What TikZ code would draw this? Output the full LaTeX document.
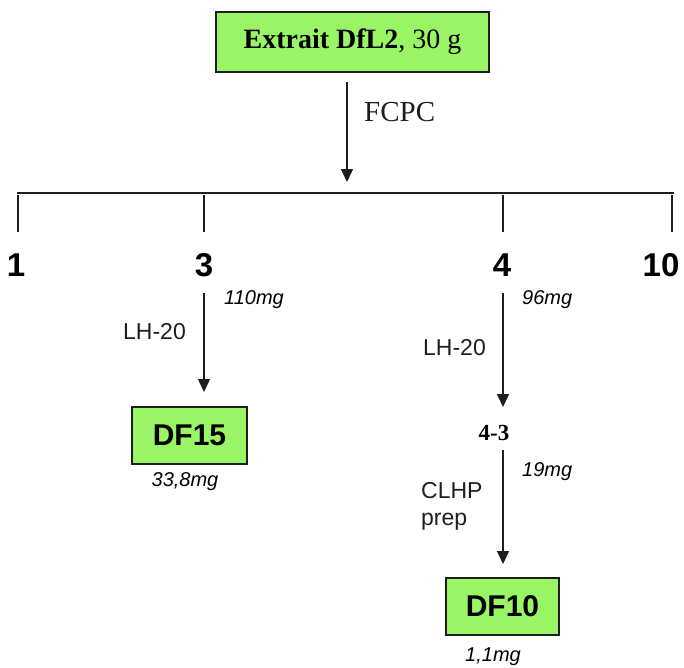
\documentclass[tikz,border=0pt]{standalone}
\usepackage{fontspec}
\setmainfont{Liberation Serif}
\newfontfamily\arialf{Liberation Sans}
\usetikzlibrary{arrows.meta}
\definecolor{boxgreen}{RGB}{153,245,102}
\definecolor{linegray}{RGB}{30,30,30}
\tikzset{
  gbox/.style={draw=linegray, line width=1.3pt, fill=boxgreen, inner sep=0pt},
  arr/.style={draw=linegray, line width=1.4pt, -{Triangle[width=12pt,length=13pt]}},
  tick/.style={draw=linegray, line width=1.4pt},
  numlab/.style={inner sep=0pt, font=\arialf\bfseries\fontsize{33}{33}\selectfont},
  mglab/.style={inner sep=0pt, font=\arialf\itshape\fontsize{20}{20}\selectfont},
  sidelab/.style={inner sep=0pt, font=\arialf\fontsize{23}{27}\selectfont, text=linegray},
}
\begin{document}
\begin{tikzpicture}[x=1pt,y=-1pt]
\useasboundingbox (0,0) rectangle (684,667);
% top box
\node[gbox, minimum width=273pt, minimum height=60pt] (top) at (352.5,42)
  {\fontsize{28}{28}\selectfont\textbf{Extrait DfL2}, 30 g};
\coordinate (fs) at (347,82);
\coordinate (fe) at (347,182);
\draw[arr] (fs) -- (fe);
\node[inner sep=0pt, anchor=west, font=\fontsize{29}{29}\selectfont, text=linegray] (fcpc) at (364,112) {FCPC};
% horizontal line and ticks
\coordinate (hl) at (17,193);
\coordinate (hr) at (674,193);
\draw[draw=linegray, line width=2pt] (hl) -- (hr);
\node[numlab] (n1) at (16,265) {1};
\node[numlab] (n3) at (204,265) {3};
\node[numlab] (n4) at (502,265) {4};
\node[numlab] (n10) at (661,265) {10};
\foreach \x/\n in {18/t1,204/t3,503/t4,672/t10}{
  \coordinate (\n a) at (\x,195);
  \coordinate (\n b) at (\x,232);
  \draw[tick] (\n a) -- (\n b);
}
% branch 3
\node[gbox, minimum width=115pt, minimum height=57pt] (df15) at (189.5,435.5)
  {\arialf\bfseries\fontsize{30}{30}\selectfont DF15};
\coordinate (a3s) at (204,293);
\coordinate (a3e) at (204,392);
\draw[arr] (a3s) -- (a3e);
\node[mglab, anchor=west] (m110) at (224,300) {110mg};
\node[sidelab, anchor=east] (lh1) at (186,332) {LH-20};
\node[mglab] (m338) at (185,482) {33,8mg};
% branch 4
\node[inner sep=0pt, font=\bfseries\fontsize{23}{23}\selectfont] (n43) at (494,433) {4-3};
\coordinate (a4s) at (503,293);
\coordinate (a4e) at (503,407);
\draw[arr] (a4s) -- (a4e);
\node[mglab, anchor=west] (m96) at (522,300) {96mg};
\node[sidelab, anchor=east] (lh2) at (486,348) {LH-20};
\node[gbox, minimum width=113pt, minimum height=57pt] (df10) at (502.5,606.5)
  {\arialf\bfseries\fontsize{30}{30}\selectfont DF10};
\coordinate (b4s) at (503,450);
\coordinate (b4e) at (503,564);
\draw[arr] (b4s) -- (b4e);
\node[mglab, anchor=west] (m19) at (522,472) {19mg};
\node[sidelab, anchor=west, align=left] (clhp) at (421,506) {CLHP\\prep};
\node[mglab] (m11) at (493,657) {1,1mg};
\end{tikzpicture}
\end{document}
